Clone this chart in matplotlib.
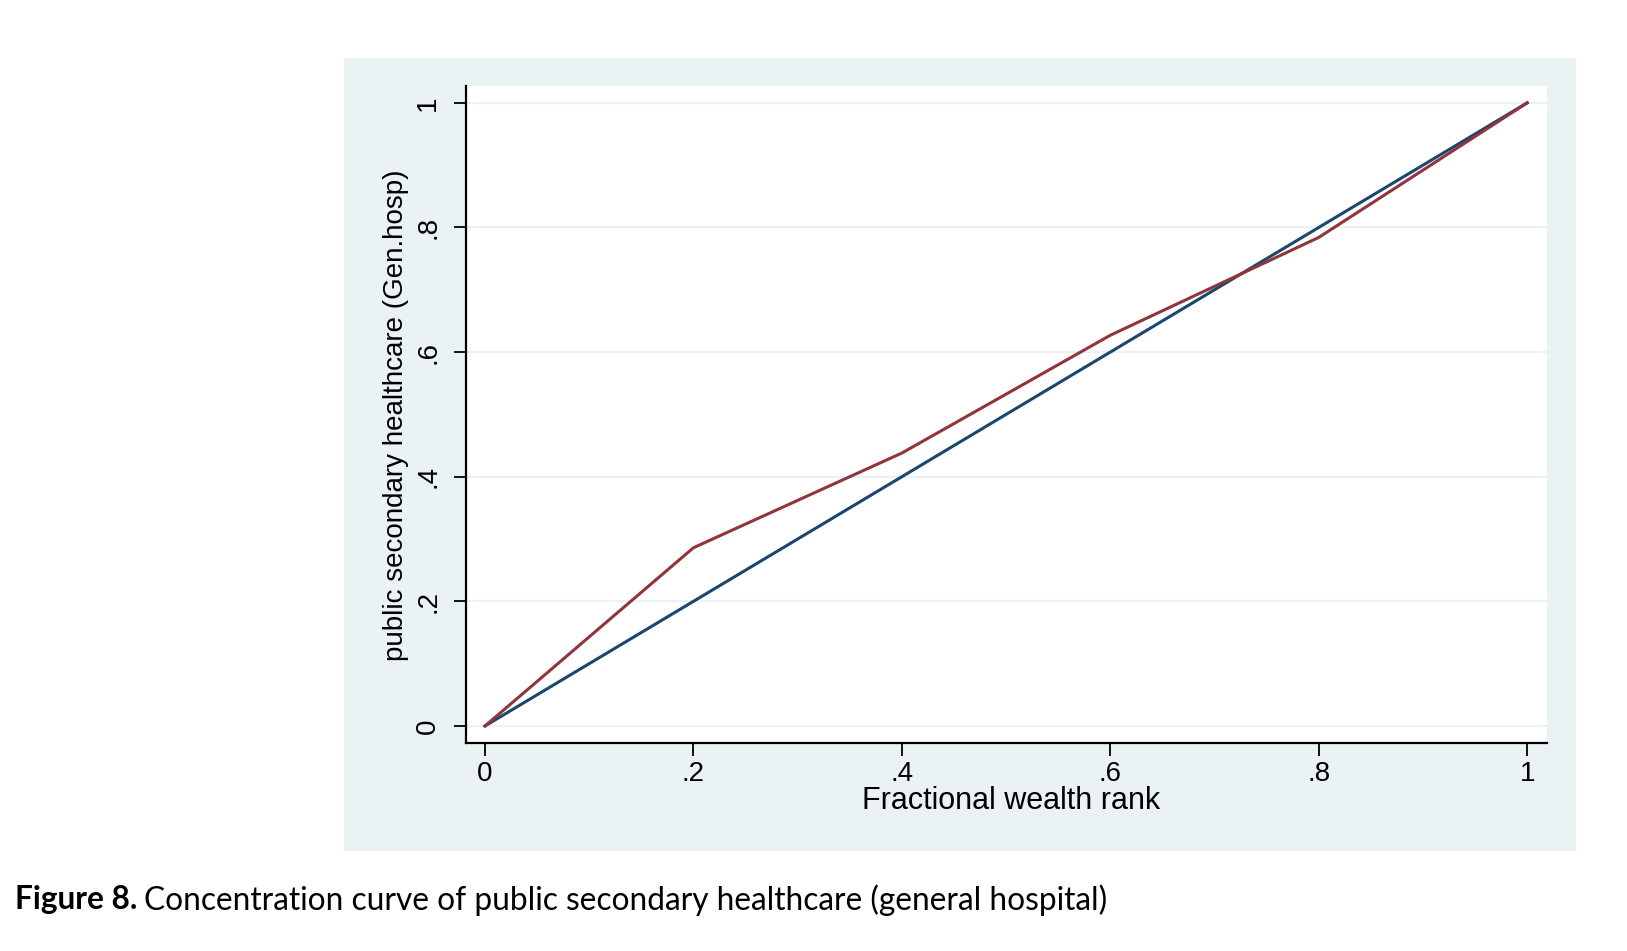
import matplotlib
matplotlib.use("Agg")
import matplotlib.pyplot as plt
from matplotlib.patches import Rectangle

# fractional wealth rank (quintile cut points)
rank = [0, 0.2, 0.4, 0.6, 0.8, 1.0]
# concentration curve, public secondary healthcare (general hospital)
conc = [0, 0.286, 0.438, 0.627, 0.784, 1.0]
# line of equality
equal = [0, 0.2, 0.4, 0.6, 0.8, 1.0]

ticks = [0, 0.2, 0.4, 0.6, 0.8, 1.0]
tick_labels = ["0", ".2", ".4", ".6", ".8", "1"]

W, H = 1627, 951
fig = plt.figure(figsize=(W / 100, H / 100), dpi=100)
fig.patch.set_facecolor("white")

# Stata graph region background
fig.patches.append(Rectangle((344 / W, 1 - 851 / H), (1576 - 344) / W, (851 - 58) / H,
                             transform=fig.transFigure, facecolor="#EAF2F3",
                             edgecolor="none", zorder=-10))

ax = fig.add_axes([466 / W, 1 - 743 / H, (1547 - 466) / W, (743 - 86) / H])
ax.set_facecolor("white")

ax.plot(rank, equal, color="#1A476F", lw=2.2, zorder=3)
ax.plot(rank, conc, color="#90353B", lw=2.2, zorder=4)

ax.set_xlim(-0.0182, 1.019)
ax.set_ylim(-0.0273, 1.027)

ax.set_xticks(ticks)
ax.set_xticklabels(tick_labels, family="Liberation Sans", fontsize=20)
ax.set_yticks(ticks)
ax.set_yticklabels(tick_labels, rotation=90, va="center", family="Liberation Sans", fontsize=20)

for y in ticks:
    ax.axhline(y, color="#EAF2F3", lw=1.6, zorder=1)

for s in ["top", "right"]:
    ax.spines[s].set_visible(False)
for s in ["left", "bottom"]:
    ax.spines[s].set_linewidth(1.6)
    ax.spines[s].set_color("black")

ax.tick_params(axis="both", direction="out", length=9, width=1.3, color="black")
ax.tick_params(axis="x", pad=4)
ax.tick_params(axis="y", pad=9)

# axis titles
fig.text(1011 / W, 1 - 801 / H, "Fractional wealth rank", fontsize=22,
         family="Liberation Sans", ha="center", va="center")
fig.text(396 / W, 1 - 415 / H, "public secondary healthcare (Gen.hosp)", fontsize=20,
         family="Liberation Sans", ha="center", va="center", rotation=90)

# caption below the graph
t1 = fig.text(15 / W, 1 - 900 / H, "Figure 8.", fontsize=22.8, fontweight="bold",
              family="Lato", va="center", ha="left")
fig.canvas.draw()
bb = t1.get_window_extent()
fig.text((bb.x1 + 7) / W, 1 - 900 / H,
         "Concentration curve of public secondary healthcare (general hospital)",
         fontsize=22.8, family="Lato", va="center", ha="left")

fig.savefig("out.png", dpi=100)
